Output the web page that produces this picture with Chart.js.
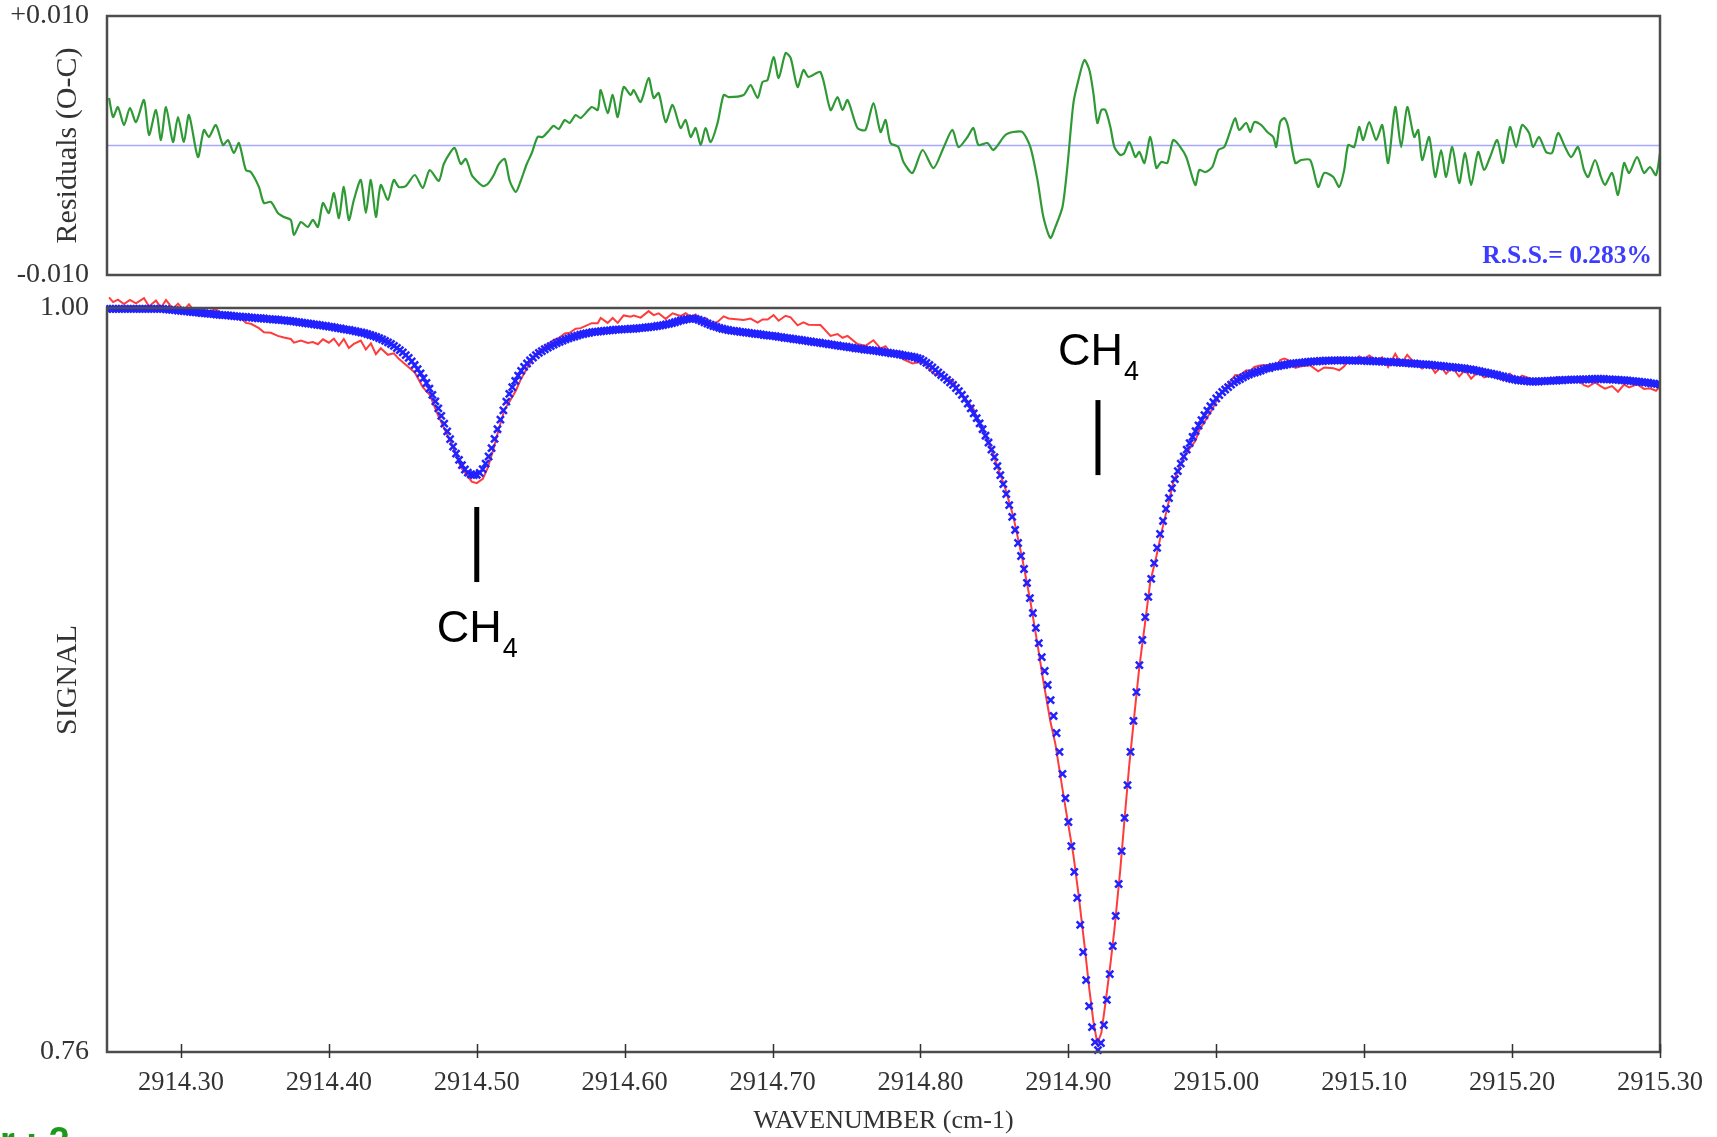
<!DOCTYPE html>
<html>
<head>
<meta charset="utf-8">
<title>CH4 line fit</title>
<script src="https://cdn.jsdelivr.net/npm/chart.js@4.4.1/dist/chart.umd.min.js"></script>
<style>
  html, body { margin: 0; padding: 0; background: #fff; }
  body { width: 1717px; height: 1137px; position: relative; overflow: hidden; }
  canvas { position: absolute; left: 0; }
  #residualChart { top: 0; }
  #signalChart { top: 290px; }
</style>
</head>
<body>
<canvas id="residualChart" width="1717" height="290"></canvas>
<canvas id="signalChart" width="1717" height="847"></canvas>
<script>
// wavenumber window and axis ticks
const wnMin = 2914.25;
const wnMax = 2915.30;
const wavenumberTicks = [2914.30, 2914.40, 2914.50, 2914.60, 2914.70, 2914.80, 2914.90, 2915.00, 2915.10, 2915.20, 2915.30];
const residualTicks = [-0.010, 0.010];
const signalTicks = [0.76, 1.00];

// calculated spectrum, one value every 0.002 cm-1 from wnMin
const fitStep = 0.002;
const fitSignal = [
  0.9997,0.9997,0.9997,0.9997,0.9997,0.9997,0.9997,0.9997,0.9997,0.9997,0.9997,0.9997,0.9997,0.9997,0.9997,0.9997,0.9997,0.9997,0.9997,0.9997,0.9996,0.9995,0.9994,0.9993,0.9992,
  0.9991,0.9990,0.9989,0.9988,0.9987,0.9986,0.9985,0.9984,0.9983,0.9982,0.9981,0.9980,0.9979,0.9978,0.9977,0.9977,0.9976,0.9975,0.9974,0.9973,0.9972,0.9971,0.9971,0.9970,0.9969,
  0.9968,0.9967,0.9967,0.9966,0.9965,0.9964,0.9963,0.9963,0.9962,0.9961,0.9960,0.9959,0.9958,0.9957,0.9955,0.9954,0.9953,0.9951,0.9950,0.9949,0.9947,0.9946,0.9945,0.9943,0.9942,
  0.9940,0.9939,0.9937,0.9935,0.9934,0.9932,0.9930,0.9929,0.9927,0.9925,0.9923,0.9921,0.9919,0.9916,0.9913,0.9910,0.9907,0.9903,0.9899,0.9894,0.9889,0.9884,0.9878,0.9871,0.9864,
  0.9857,0.9848,0.9839,0.9828,0.9816,0.9803,0.9789,0.9774,0.9758,0.9740,0.9720,0.9699,0.9676,0.9652,0.9627,0.9602,0.9577,0.9553,0.9530,0.9510,0.9493,0.9479,0.9469,0.9463,0.9461,
  0.9462,0.9468,0.9480,0.9498,0.9521,0.9548,0.9578,0.9609,0.9640,0.9670,0.9698,0.9723,0.9745,0.9765,0.9782,0.9797,0.9810,0.9821,0.9831,0.9840,0.9848,0.9855,0.9861,0.9867,0.9872,
  0.9877,0.9882,0.9887,0.9891,0.9895,0.9899,0.9902,0.9905,0.9908,0.9911,0.9914,0.9916,0.9918,0.9920,0.9922,0.9923,0.9924,0.9925,0.9926,0.9927,0.9928,0.9929,0.9930,0.9930,0.9931,
  0.9932,0.9932,0.9933,0.9933,0.9934,0.9935,0.9936,0.9937,0.9938,0.9939,0.9940,0.9942,0.9943,0.9945,0.9947,0.9949,0.9951,0.9954,0.9957,0.9960,0.9962,0.9964,0.9965,0.9966,0.9965,
  0.9962,0.9958,0.9954,0.9950,0.9946,0.9942,0.9939,0.9936,0.9933,0.9931,0.9929,0.9927,0.9926,0.9925,0.9923,0.9922,0.9921,0.9920,0.9918,0.9917,0.9916,0.9915,0.9913,0.9912,0.9911,
  0.9910,0.9909,0.9907,0.9906,0.9904,0.9903,0.9902,0.9900,0.9899,0.9898,0.9896,0.9895,0.9893,0.9892,0.9890,0.9889,0.9888,0.9886,0.9885,0.9883,0.9882,0.9880,0.9879,0.9877,0.9876,
  0.9875,0.9873,0.9872,0.9870,0.9869,0.9868,0.9866,0.9865,0.9864,0.9863,0.9862,0.9860,0.9859,0.9857,0.9856,0.9854,0.9853,0.9852,0.9850,0.9848,0.9846,0.9845,0.9843,0.9841,0.9838,
  0.9835,0.9829,0.9823,0.9816,0.9808,0.9800,0.9792,0.9784,0.9776,0.9768,0.9760,0.9752,0.9742,0.9732,0.9720,0.9707,0.9692,0.9676,0.9660,0.9645,0.9628,0.9609,0.9588,0.9566,0.9543,
  0.9519,0.9490,0.9461,0.9432,0.9400,0.9364,0.9326,0.9284,0.9242,0.9200,0.9158,0.9113,0.9064,0.9016,0.8968,0.8919,0.8874,0.8829,0.8784,0.8735,0.8684,0.8629,0.8568,0.8497,0.8419,
  0.8342,0.8264,0.8181,0.8097,0.8010,0.7922,0.7832,0.7748,0.7680,0.7632,0.7606,0.7629,0.7687,0.7768,0.7851,0.7942,0.8039,0.8142,0.8248,0.8355,0.8461,0.8568,0.8668,0.8761,0.8848,
  0.8929,0.9003,0.9068,0.9126,0.9177,0.9226,0.9271,0.9313,0.9352,0.9387,0.9419,0.9448,0.9474,0.9498,0.9521,0.9543,0.9564,0.9584,0.9603,0.9621,0.9638,0.9654,0.9669,0.9683,0.9696,
  0.9708,0.9719,0.9729,0.9737,0.9745,0.9753,0.9760,0.9766,0.9771,0.9776,0.9781,0.9785,0.9789,0.9792,0.9795,0.9798,0.9802,0.9805,0.9806,0.9810,0.9811,0.9813,0.9815,0.9816,0.9818,
  0.9820,0.9821,0.9822,0.9823,0.9824,0.9825,0.9826,0.9827,0.9828,0.9828,0.9829,0.9829,0.9830,0.9830,0.9830,0.9831,0.9831,0.9831,0.9831,0.9831,0.9831,0.9830,0.9830,0.9830,0.9830,
  0.9830,0.9829,0.9829,0.9829,0.9828,0.9828,0.9827,0.9827,0.9826,0.9826,0.9825,0.9825,0.9824,0.9823,0.9823,0.9822,0.9821,0.9821,0.9820,0.9819,0.9818,0.9818,0.9817,0.9816,0.9815,
  0.9814,0.9813,0.9812,0.9811,0.9810,0.9809,0.9808,0.9807,0.9806,0.9805,0.9803,0.9802,0.9800,0.9798,0.9796,0.9794,0.9792,0.9790,0.9788,0.9786,0.9784,0.9781,0.9779,0.9776,0.9773,
  0.9771,0.9769,0.9767,0.9766,0.9765,0.9764,0.9763,0.9763,0.9763,0.9763,0.9764,0.9764,0.9765,0.9765,0.9766,0.9766,0.9767,0.9767,0.9768,0.9768,0.9769,0.9769,0.9769,0.9770,0.9770,
  0.9770,0.9770,0.9771,0.9771,0.9771,0.9771,0.9771,0.9770,0.9770,0.9769,0.9769,0.9768,0.9767,0.9767,0.9766,0.9765,0.9764,0.9763,0.9762,0.9761,0.9760,0.9759,0.9757,0.9756,0.9755,
  0.9753
];

// measured spectrum, [wavenumber, signal]
const observed = [
  [2914.2514,1.0034],[2914.2541,1.0019],[2914.2574,1.0027],[2914.2615,1.0013],[2914.2655,1.0026],[2914.2696,1.0015],[2914.2750,1.0032],[2914.2784,1.0005],
  [2914.2831,1.0024],[2914.2865,1.0001],[2914.2899,1.0026],[2914.2946,0.9997],[2914.2980,1.0014],[2914.3020,0.9993],[2914.3054,1.0012],[2914.3115,0.9976],
  [2914.3155,0.9995],[2914.3189,0.9989],[2914.3236,0.9996],[2914.3284,0.9977],[2914.3318,0.9980],[2914.3358,0.9968],[2914.3392,0.9974],[2914.3439,0.9952],
  [2914.3473,0.9949],[2914.3527,0.9935],[2914.3561,0.9922],[2914.3608,0.9920],[2914.3655,0.9910],[2914.3696,0.9905],[2914.3743,0.9900],[2914.3764,0.9888],
  [2914.3811,0.9895],[2914.3858,0.9887],[2914.3892,0.9890],[2914.3926,0.9883],[2914.3960,0.9899],[2914.4000,0.9888],[2914.4034,0.9901],[2914.4068,0.9879],
  [2914.4101,0.9900],[2914.4135,0.9871],[2914.4169,0.9884],[2914.4216,0.9895],[2914.4250,0.9866],[2914.4284,0.9886],[2914.4318,0.9851],[2914.4351,0.9870],
  [2914.4399,0.9849],[2914.4439,0.9854],[2914.4473,0.9836],[2914.4520,0.9817],[2914.4581,0.9792],[2914.4635,0.9745],[2914.4682,0.9720],[2914.4743,0.9649],
  [2914.4777,0.9615],[2914.4818,0.9574],[2914.4851,0.9539],[2914.4892,0.9486],[2914.4926,0.9466],[2914.4966,0.9440],[2914.5000,0.9435],[2914.5041,0.9449],
  [2914.5074,0.9484],[2914.5115,0.9548],[2914.5149,0.9610],[2914.5189,0.9674],[2914.5223,0.9699],[2914.5264,0.9733],[2914.5297,0.9769],[2914.5338,0.9804],
  [2914.5372,0.9830],[2914.5412,0.9859],[2914.5446,0.9870],[2914.5486,0.9884],[2914.5520,0.9897],[2914.5554,0.9903],[2914.5595,0.9918],[2914.5628,0.9920],
  [2914.5669,0.9933],[2914.5703,0.9935],[2914.5777,0.9951],[2914.5818,0.9951],[2914.5838,0.9968],[2914.5885,0.9952],[2914.5919,0.9968],[2914.5953,0.9952],
  [2914.5993,0.9976],[2914.6041,0.9972],[2914.6061,0.9976],[2914.6108,0.9969],[2914.6162,0.9990],[2914.6196,0.9977],[2914.6230,0.9983],[2914.6277,0.9965],
  [2914.6324,0.9983],[2914.6378,0.9974],[2914.6412,0.9983],[2914.6446,0.9972],[2914.6480,0.9979],[2914.6514,0.9960],[2914.6547,0.9968],[2914.6581,0.9950],
  [2914.6628,0.9955],[2914.6669,0.9973],[2914.6703,0.9966],[2914.6804,0.9961],[2914.6851,0.9966],[2914.6899,0.9953],[2914.6932,0.9963],[2914.6966,0.9963],
  [2914.7007,0.9977],[2914.7041,0.9959],[2914.7088,0.9975],[2914.7122,0.9970],[2914.7169,0.9944],[2914.7209,0.9954],[2914.7243,0.9946],[2914.7324,0.9945],
  [2914.7392,0.9910],[2914.7439,0.9916],[2914.7473,0.9904],[2914.7507,0.9910],[2914.7574,0.9884],[2914.7628,0.9878],[2914.7682,0.9896],[2914.7730,0.9870],
  [2914.7764,0.9877],[2914.7797,0.9856],[2914.7851,0.9849],[2914.7885,0.9834],[2914.7946,0.9821],[2914.8014,0.9827],[2914.8088,0.9788],[2914.8155,0.9777],
  [2914.8216,0.9766],[2914.8257,0.9732],[2914.8318,0.9698],[2914.8358,0.9675],[2914.8392,0.9633],[2914.8453,0.9575],[2914.8493,0.9526],[2914.8574,0.9417],
  [2914.8628,0.9327],[2914.8689,0.9190],[2914.8743,0.9054],[2914.8791,0.8916],[2914.8831,0.8796],[2914.8878,0.8667],[2914.8912,0.8594],[2914.8960,0.8449],
  [2914.8993,0.8352],[2914.9034,0.8235],[2914.9068,0.8111],[2914.9108,0.7949],[2914.9142,0.7801],[2914.9169,0.7699],[2914.9196,0.7627],[2914.9223,0.7662],
  [2914.9250,0.7755],[2914.9284,0.7883],[2914.9311,0.7994],[2914.9351,0.8188],[2914.9378,0.8342],[2914.9412,0.8528],[2914.9453,0.8719],[2914.9480,0.8843],
  [2914.9514,0.8967],[2914.9554,0.9118],[2914.9595,0.9199],[2914.9628,0.9273],[2914.9669,0.9356],[2914.9709,0.9437],[2914.9757,0.9494],[2914.9797,0.9532],
  [2914.9858,0.9571],[2914.9885,0.9606],[2914.9926,0.9637],[2914.9973,0.9673],[2915.0014,0.9712],[2915.0054,0.9736],[2915.0101,0.9767],[2915.0128,0.9784],
  [2915.0155,0.9782],[2915.0203,0.9799],[2915.0230,0.9797],[2915.0257,0.9810],[2915.0304,0.9815],[2915.0345,0.9815],[2915.0385,0.9817],[2915.0405,0.9810],
  [2915.0432,0.9832],[2915.0460,0.9837],[2915.0486,0.9832],[2915.0534,0.9807],[2915.0574,0.9812],[2915.0635,0.9815],[2915.0689,0.9796],[2915.0730,0.9808],
  [2915.0791,0.9806],[2915.0831,0.9799],[2915.0865,0.9812],[2915.0892,0.9831],[2915.0932,0.9829],[2915.0966,0.9844],[2915.0993,0.9834],[2915.1034,0.9847],
  [2915.1081,0.9831],[2915.1122,0.9841],[2915.1162,0.9810],[2915.1210,0.9852],[2915.1250,0.9819],[2915.1291,0.9849],[2915.1338,0.9824],[2915.1365,0.9828],
  [2915.1392,0.9805],[2915.1439,0.9822],[2915.1480,0.9791],[2915.1520,0.9810],[2915.1554,0.9788],[2915.1595,0.9809],[2915.1642,0.9779],[2915.1682,0.9800],
  [2915.1723,0.9772],[2915.1770,0.9794],[2915.1811,0.9776],[2915.1851,0.9781],[2915.1899,0.9789],[2915.1939,0.9766],[2915.1986,0.9788],[2915.2027,0.9767],
  [2915.2068,0.9782],[2915.2115,0.9774],[2915.2142,0.9762],[2915.2182,0.9770],[2915.2230,0.9759],[2915.2270,0.9759],[2915.2311,0.9777],[2915.2358,0.9767],
  [2915.2399,0.9760],[2915.2446,0.9768],[2915.2486,0.9751],[2915.2514,0.9746],[2915.2561,0.9760],[2915.2601,0.9747],[2915.2628,0.9740],[2915.2676,0.9748],
  [2915.2716,0.9730],[2915.2757,0.9753],[2915.2791,0.9744],[2915.2845,0.9754],[2915.2892,0.9739],[2915.2932,0.9741],[2915.2973,0.9733],[2915.3000,0.9747]
];

// observed minus calculated, [wavenumber, residual]
const residuals = [
  [2914.2514,0.00367],[2914.2541,0.00220],[2914.2574,0.00297],[2914.2615,0.00158],[2914.2655,0.00290],[2914.2696,0.00181],[2914.2750,0.00351],[2914.2784,0.00081],
  [2914.2831,0.00274],[2914.2865,0.00042],[2914.2899,0.00297],[2914.2946,0.00027],[2914.2980,0.00220],[2914.3020,0.00027],[2914.3054,0.00236],[2914.3115,-0.00089],
  [2914.3155,0.00120],[2914.3189,0.00066],[2914.3236,0.00158],[2914.3284,0.00004],[2914.3318,0.00042],[2914.3358,-0.00058],[2914.3392,0.00019],[2914.3439,-0.00189],
  [2914.3473,-0.00205],[2914.3527,-0.00320],[2914.3561,-0.00444],[2914.3608,-0.00436],[2914.3655,-0.00521],[2914.3696,-0.00552],[2914.3743,-0.00575],[2914.3764,-0.00691],
  [2914.3811,-0.00591],[2914.3858,-0.00629],[2914.3892,-0.00575],[2914.3926,-0.00629],[2914.3960,-0.00444],[2914.4000,-0.00521],[2914.4034,-0.00367],[2914.4068,-0.00560],
  [2914.4101,-0.00320],[2914.4135,-0.00575],[2914.4169,-0.00421],[2914.4216,-0.00266],[2914.4250,-0.00521],[2914.4284,-0.00266],[2914.4318,-0.00552],[2914.4351,-0.00305],
  [2914.4399,-0.00421],[2914.4439,-0.00266],[2914.4473,-0.00320],[2914.4520,-0.00313],[2914.4581,-0.00228],[2914.4635,-0.00328],[2914.4682,-0.00189],[2914.4743,-0.00274],
  [2914.4777,-0.00143],[2914.4818,-0.00058],[2914.4851,-0.00019],[2914.4892,-0.00143],[2914.4926,-0.00104],[2914.4966,-0.00228],[2914.5000,-0.00274],[2914.5041,-0.00313],
  [2914.5074,-0.00297],[2914.5115,-0.00228],[2914.5149,-0.00143],[2914.5189,-0.00104],[2914.5223,-0.00274],[2914.5264,-0.00359],[2914.5297,-0.00274],[2914.5338,-0.00143],
  [2914.5372,-0.00058],[2914.5412,0.00066],[2914.5446,0.00066],[2914.5486,0.00112],[2914.5520,0.00151],[2914.5554,0.00127],[2914.5595,0.00197],[2914.5628,0.00174],
  [2914.5669,0.00235],[2914.5703,0.00212],[2914.5777,0.00297],[2914.5818,0.00274],[2914.5838,0.00428],[2914.5885,0.00251],[2914.5919,0.00390],[2914.5953,0.00220],
  [2914.5993,0.00452],[2914.6041,0.00390],[2914.6061,0.00428],[2914.6108,0.00336],[2914.6162,0.00521],[2914.6196,0.00367],[2914.6230,0.00405],[2914.6277,0.00181],
  [2914.6324,0.00313],[2914.6378,0.00135],[2914.6412,0.00197],[2914.6446,0.00066],[2914.6480,0.00135],[2914.6514,0.00004],[2914.6547,0.00135],[2914.6581,0.00027],
  [2914.6628,0.00174],[2914.6669,0.00390],[2914.6703,0.00374],[2914.6804,0.00390],[2914.6851,0.00467],[2914.6899,0.00367],[2914.6932,0.00490],[2914.6966,0.00506],
  [2914.7007,0.00683],[2914.7041,0.00521],[2914.7088,0.00714],[2914.7122,0.00676],[2914.7169,0.00452],[2914.7209,0.00583],[2914.7243,0.00529],[2914.7324,0.00567],
  [2914.7392,0.00274],[2914.7439,0.00374],[2914.7473,0.00274],[2914.7507,0.00351],[2914.7574,0.00135],[2914.7628,0.00120],[2914.7682,0.00328],[2914.7730,0.00104],
  [2914.7764,0.00197],[2914.7797,0.00019],[2914.7851,-0.00012],[2914.7885,-0.00127],[2914.7946,-0.00212],[2914.8014,-0.00035],[2914.8088,-0.00174],[2914.8155,-0.00019],
  [2914.8216,0.00120],[2914.8257,-0.00012],[2914.8318,0.00066],[2914.8358,0.00135],[2914.8392,0.00004],[2914.8453,0.00019],[2914.8493,-0.00035],[2914.8574,0.00081],
  [2914.8628,0.00104],[2914.8689,0.00104],[2914.8743,-0.00012],[2914.8791,-0.00266],[2914.8831,-0.00552],[2914.8878,-0.00714],[2914.8912,-0.00629],[2914.8960,-0.00475],
  [2914.8993,-0.00166],[2914.9034,0.00328],[2914.9068,0.00506],[2914.9108,0.00660],[2914.9142,0.00583],[2914.9169,0.00405],[2914.9196,0.00174],[2914.9223,0.00274],
  [2914.9250,0.00274],[2914.9284,0.00143],[2914.9311,-0.00012],[2914.9351,-0.00073],[2914.9378,-0.00058],[2914.9412,0.00027],[2914.9453,-0.00089],[2914.9480,-0.00050],
  [2914.9514,-0.00135],[2914.9554,0.00066],[2914.9595,-0.00174],[2914.9628,-0.00127],[2914.9669,-0.00135],[2914.9709,0.00042],[2914.9757,-0.00012],[2914.9797,-0.00089],
  [2914.9858,-0.00305],[2914.9885,-0.00189],[2914.9926,-0.00205],[2914.9973,-0.00166],[2915.0014,-0.00035],[2915.0054,-0.00012],[2915.0101,0.00135],[2915.0128,0.00212],
  [2915.0155,0.00120],[2915.0203,0.00174],[2915.0230,0.00104],[2915.0257,0.00181],[2915.0304,0.00158],[2915.0345,0.00104],[2915.0385,0.00066],[2915.0405,-0.00012],
  [2915.0432,0.00181],[2915.0460,0.00212],[2915.0486,0.00143],[2915.0534,-0.00135],[2915.0574,-0.00112],[2915.0635,-0.00112],[2915.0689,-0.00320],[2915.0730,-0.00212],
  [2915.0791,-0.00243],[2915.0831,-0.00320],[2915.0865,-0.00189],[2915.0892,0.00004],[2915.0932,-0.00012],[2915.0966,0.00143],[2915.0993,0.00042],[2915.1034,0.00181],
  [2915.1081,0.00042],[2915.1122,0.00158],[2915.1162,-0.00135],[2915.1210,0.00297],[2915.1250,-0.00012],[2915.1291,0.00297],[2915.1338,0.00066],[2915.1365,0.00120],
  [2915.1392,-0.00112],[2915.1439,0.00066],[2915.1480,-0.00243],[2915.1520,-0.00035],[2915.1554,-0.00243],[2915.1595,-0.00012],[2915.1642,-0.00290],[2915.1682,-0.00058],
  [2915.1723,-0.00305],[2915.1770,-0.00050],[2915.1811,-0.00189],[2915.1851,-0.00089],[2915.1899,0.00042],[2915.1939,-0.00135],[2915.1986,0.00143],[2915.2027,-0.00012],
  [2915.2068,0.00158],[2915.2115,0.00097],[2915.2142,-0.00012],[2915.2182,0.00066],[2915.2230,-0.00050],[2915.2270,-0.00058],[2915.2311,0.00097],[2915.2358,-0.00012],
  [2915.2399,-0.00089],[2915.2446,-0.00012],[2915.2486,-0.00189],[2915.2514,-0.00243],[2915.2561,-0.00112],[2915.2601,-0.00243],[2915.2628,-0.00305],[2915.2676,-0.00212],
  [2915.2716,-0.00382],[2915.2757,-0.00135],[2915.2791,-0.00212],[2915.2845,-0.00089],[2915.2892,-0.00212],[2915.2932,-0.00166],[2915.2973,-0.00228],[2915.3000,-0.00058]
];

const rssLabel = 'R.S.S.= 0.283%';
const iterationLabel = 'r : 2';

// line assignments: tick from top to bottom, label baseline, all in data units
const assignments = [
  { name: 'CH', sub: '4', wn: 2914.50, tickTop: 0.9358, tickBottom: 0.9116, labelBase: 0.8923 },
  { name: 'CH', sub: '4', wn: 2914.92, tickTop: 0.9703, tickBottom: 0.9461, labelBase: 0.9816 }
];

const serif = '"Liberation Serif", "Times New Roman", serif';
const sans = '"Liberation Sans", Arial, sans-serif';
const ink = '#333333';

const frame = {
  id: 'frame',
  afterDatasetsDraw(chart) {
    const { ctx, chartArea: a } = chart;
    ctx.save();
    ctx.strokeStyle = '#4d4d4d';
    ctx.lineWidth = 2.5;
    ctx.strokeRect(a.left, a.top, a.right - a.left, a.bottom - a.top);
    ctx.restore();
  }
};

// short ticks crossing the bottom axis line
const crossTicks = {
  id: 'crossTicks',
  afterDatasetsDraw(chart) {
    const { ctx, chartArea: a, scales: { x } } = chart;
    ctx.save();
    ctx.strokeStyle = ink;
    ctx.lineWidth = 1.5;
    ctx.beginPath();
    wavenumberTicks.forEach(v => {
      const px = Math.round(x.getPixelForValue(v)) + 0.5;
      ctx.moveTo(px, a.bottom - 8);
      ctx.lineTo(px, a.bottom + 6);
    });
    ctx.stroke();
    ctx.restore();
  }
};

const assignmentMarks = {
  id: 'assignmentMarks',
  afterDatasetsDraw(chart) {
    const { ctx, scales: { x, y } } = chart;
    ctx.save();
    ctx.strokeStyle = '#000';
    ctx.fillStyle = '#000';
    ctx.lineWidth = 5;
    ctx.textAlign = 'left';
    ctx.textBaseline = 'alphabetic';
    assignments.forEach(m => {
      const px = x.getPixelForValue(m.wn);
      ctx.beginPath();
      ctx.moveTo(px, y.getPixelForValue(m.tickTop));
      ctx.lineTo(px, y.getPixelForValue(m.tickBottom));
      ctx.stroke();

      ctx.font = `45px ${sans}`;
      const wName = ctx.measureText(m.name).width;
      ctx.font = `27px ${sans}`;
      const wSub = ctx.measureText(m.sub).width;
      const left = px - (wName + wSub) / 2;
      const base = y.getPixelForValue(m.labelBase);
      ctx.font = `45px ${sans}`;
      ctx.fillText(m.name, left, base);
      ctx.font = `27px ${sans}`;
      ctx.fillText(m.sub, left + wName + 1, base + 15);
    });
    ctx.restore();
  }
};

const rssNote = {
  id: 'rssNote',
  afterDatasetsDraw(chart) {
    const { ctx, chartArea: a } = chart;
    ctx.save();
    ctx.font = `bold 25.5px ${serif}`;
    ctx.fillStyle = '#3c3cff';
    ctx.textAlign = 'right';
    ctx.textBaseline = 'alphabetic';
    ctx.fillText(rssLabel, a.right - 8, a.bottom - 12);
    ctx.restore();
  }
};

const iterationNote = {
  id: 'iterationNote',
  afterDraw(chart) {
    const { ctx } = chart;
    ctx.save();
    ctx.font = `bold 38px ${sans}`;
    ctx.fillStyle = '#1c9a1c';
    ctx.textAlign = 'left';
    ctx.textBaseline = 'alphabetic';
    ctx.fillText(iterationLabel, 0, chart.height + 17);
    ctx.restore();
  }
};

const toPoints = pairs => pairs.map(([x, y]) => ({ x, y }));
const fitPoints = fitSignal.map((v, i) => ({ x: +(wnMin + i * fitStep).toFixed(3), y: v }));

// tick marks are invisible; their length only sets the label offset
const hiddenTicks = len => ({
  display: true, drawOnChartArea: false, drawTicks: true,
  tickLength: len, color: 'rgba(0,0,0,0)'
});

const xShared = {
  type: 'linear',
  min: wnMin,
  max: wnMax,
  border: { display: false }
};

const yAxis = (min, max, tickValues, fmt, title) => ({
  min, max,
  afterBuildTicks: s => { s.ticks = tickValues.map(v => ({ value: v })); },
  afterFit: s => { s.width = 107; },
  grid: hiddenTicks(18),
  border: { display: false },
  ticks: {
    color: ink, padding: 0, autoSkip: false,
    font: { family: serif, size: 28, lineHeight: 1 },
    callback: fmt
  },
  title: {
    display: true, text: title, color: ink,
    font: { family: serif, size: 30 },
    padding: { top: 50, bottom: 0 }
  }
});

const common = {
  responsive: false,
  animation: false,
  events: [],
  plugins: { legend: { display: false }, tooltip: { enabled: false } }
};

new Chart(document.getElementById('residualChart'), {
  type: 'scatter',
  data: {
    datasets: [
      {
        data: toPoints(residuals),
        showLine: true,
        tension: 0.25,
        borderColor: '#2f9a35',
        borderWidth: 2.2,
        pointRadius: 0,
        order: 0
      },
      {
        data: [{ x: wnMin, y: 0 }, { x: wnMax, y: 0 }],
        showLine: true,
        borderColor: '#a8a8ff',
        borderWidth: 1.5,
        pointRadius: 0,
        order: 1
      }
    ]
  },
  options: {
    ...common,
    layout: { padding: { left: 0, right: 57, top: 16, bottom: 15 } },
    scales: {
      x: { ...xShared, display: false, grid: { display: false } },
      y: yAxis(-0.010, 0.010, residualTicks, v => (v > 0 ? '+' : '') + v.toFixed(3), 'Residuals (O-C)')
    }
  },
  plugins: [frame, rssNote]
});

new Chart(document.getElementById('signalChart'), {
  type: 'scatter',
  data: {
    datasets: [
      {
        data: fitPoints,
        showLine: false,
        pointStyle: 'crossRot',
        pointRadius: 5,
        pointBorderWidth: 2.5,
        pointBorderColor: '#2222ff',
        pointBackgroundColor: '#2222ff',
        clip: { left: 1, top: 6, right: 1, bottom: 6 },
        order: 0
      },
      {
        data: toPoints(observed),
        showLine: true,
        borderColor: '#ff3c3c',
        borderWidth: 2,
        pointRadius: 0,
        clip: { left: 0, top: 16, right: 0, bottom: 4 },
        order: 1
      }
    ]
  },
  options: {
    ...common,
    layout: { padding: { left: 0, right: 57, top: 18, bottom: 0 } },
    scales: {
      x: {
        ...xShared,
        grid: hiddenTicks(15),
        afterBuildTicks: s => { s.ticks = wavenumberTicks.map(v => ({ value: v })); },
        afterFit: s => { s.height = 85; },
        ticks: {
          color: ink, padding: 0, autoSkip: false, maxRotation: 0,
          font: { family: serif, size: 26.5 },
          callback: v => v.toFixed(2)
        },
        title: {
          display: true, text: 'WAVENUMBER (cm-1)', color: ink,
          font: { family: serif, size: 26 },
          padding: { top: 0, bottom: 0 }
        }
      },
      y: yAxis(0.76, 1.00, signalTicks, v => v.toFixed(2), 'SIGNAL')
    }
  },
  plugins: [frame, crossTicks, assignmentMarks, iterationNote]
});
</script>
</body>
</html>
